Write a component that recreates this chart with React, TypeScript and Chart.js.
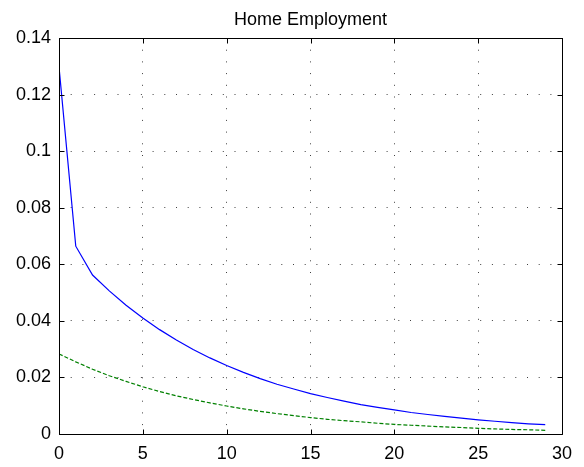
import React, { useEffect, useRef } from "react";
import { Chart, registerables } from "chart.js";

Chart.register(...registerables);

const TITLE = "Home Employment";
const xValues = [0, 1, 2, 3, 4, 5, 6, 7, 8, 9, 10, 11, 12, 13, 14, 15, 16, 17, 18, 19, 20, 21, 22, 23, 24, 25, 26, 27, 28, 29];
const blueSeries = [0.1298, 0.0664, 0.0562, 0.0506, 0.0455, 0.041, 0.0369, 0.0332, 0.0299, 0.0269, 0.0242, 0.0218, 0.0196, 0.0176, 0.0159, 0.0143, 0.0129, 0.0116, 0.0104, 0.0094, 0.0085, 0.0076, 0.0069, 0.0062, 0.0056, 0.005, 0.0045, 0.004, 0.0036, 0.0033];
const greenSeries = [0.0283, 0.0255, 0.0229, 0.0206, 0.0186, 0.0167, 0.015, 0.0135, 0.0122, 0.011, 0.0099, 0.0089, 0.008, 0.0072, 0.0065, 0.0058, 0.0052, 0.0047, 0.0043, 0.0038, 0.0034, 0.0031, 0.0028, 0.0025, 0.0023, 0.002, 0.0018, 0.0016, 0.0015, 0.0013];
const xTicks = [0, 5, 10, 15, 20, 25, 30];
const yTicks = [0, 0.02, 0.04, 0.06, 0.08, 0.1, 0.12, 0.14];

const FONT = "'Liberation Sans', Arial, Helvetica, sans-serif";

const framePlugin = {
  id: "matlabFrame",
  afterDraw(chart: any) {
    const { ctx, chartArea } = chart;
    const { left, right, top, bottom } = chartArea;
    const xs = chart.scales.x;
    const ys = chart.scales.y;
    ctx.save();
    ctx.strokeStyle = "#000";
    ctx.lineWidth = 1;
    const L = Math.round(left) + 0.5;
    const R = Math.round(right) + 0.5;
    const T = Math.round(top) + 0.5;
    const B = Math.round(bottom) + 0.5;
    ctx.beginPath();
    ctx.rect(L, T, R - L, B - T);
    ctx.stroke();
    const tl = 5;
    ctx.beginPath();
    xTicks.forEach((v) => {
      const px = Math.round(xs.getPixelForValue(v)) + 0.5;
      ctx.moveTo(px, B);
      ctx.lineTo(px, B - tl);
      ctx.moveTo(px, T);
      ctx.lineTo(px, T + tl);
    });
    yTicks.forEach((v) => {
      const py = Math.round(ys.getPixelForValue(v)) + 0.5;
      ctx.moveTo(L, py);
      ctx.lineTo(L + tl, py);
      ctx.moveTo(R, py);
      ctx.lineTo(R - tl, py);
    });
    ctx.stroke();
    ctx.fillStyle = "#000";
    ctx.font = `18px ${FONT}`;
    ctx.textAlign = "center";
    ctx.textBaseline = "alphabetic";
    ctx.fillText(TITLE, (left + right) / 2, 25);
    ctx.restore();
  },
};

export default function App() {
  const ref = useRef<HTMLCanvasElement | null>(null);
  useEffect(() => {
    if (!ref.current) return;
    const chart = new Chart(ref.current, {
      type: "line",
      data: {
        datasets: [
          {
            data: xValues.map((x, i) => ({ x, y: blueSeries[i] })),
            borderColor: "#0000ff",
            borderWidth: 1.2,
            pointRadius: 0,
            tension: 0,
            fill: false,
          },
          {
            data: xValues.map((x, i) => ({ x, y: greenSeries[i] })),
            borderColor: "#008000",
            borderWidth: 1.2,
            borderDash: [4, 2],
            pointRadius: 0,
            tension: 0,
            fill: false,
          },
        ],
      },
      options: {
        animation: false,
        responsive: true,
        maintainAspectRatio: false,
        layout: { padding: { top: 38, right: 22, left: 0, bottom: 0 } },
        plugins: { legend: { display: false }, title: { display: false }, tooltip: { enabled: false } },
        scales: {
          x: {
            type: "linear",
            min: 0,
            max: 30,
            afterFit: (s: any) => {
              s.height = 33;
            },
            afterBuildTicks: (s: any) => {
              s.ticks = xTicks.map((v) => ({ value: v }));
            },
            ticks: {
              color: "#000",
              font: { family: FONT, size: 18 },
              padding: 9,
              maxRotation: 0,
              autoSkip: false,
              callback: (v: any) => String(v),
            },
            grid: {
              color: "rgba(0,0,0,0.75)",
              lineWidth: 1,
              drawTicks: false,
              tickBorderDash: [],
            },
            border: { display: false, dash: [1, 10.7] },
          },
          y: {
            type: "linear",
            min: 0,
            max: 0.14,
            afterFit: (s: any) => {
              s.width = 59;
            },
            afterBuildTicks: (s: any) => {
              s.ticks = yTicks.map((v) => ({ value: v }));
            },
            ticks: {
              color: "#000",
              font: { family: FONT, size: 18 },
              padding: 8,
              autoSkip: false,
              callback: (v: any) => String(Number(Number(v).toFixed(2))),
            },
            grid: {
              color: "rgba(0,0,0,0.75)",
              lineWidth: 1,
              drawTicks: false,
            },
            border: { display: false, dash: [1, 10.7] },
          },
        },
      },
      plugins: [framePlugin],
    });
    return () => chart.destroy();
  }, []);
  return (
    <div style={{ position: "absolute", left: 0, top: 0, width: 584, height: 467, background: "#fff" }}>
      <canvas ref={ref} />
    </div>
  );
}
